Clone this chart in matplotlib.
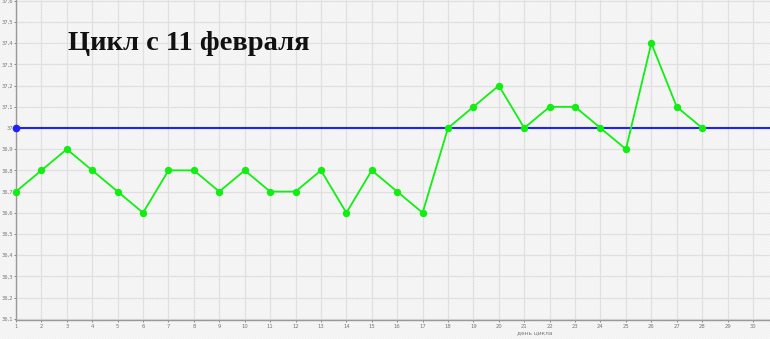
import matplotlib
matplotlib.use("Agg")
import matplotlib.pyplot as plt
from matplotlib.patches import Rectangle

days = list(range(1, 29))
temps = [36.7, 36.8, 36.9, 36.8, 36.7, 36.6, 36.8, 36.8, 36.7, 36.8,
         36.7, 36.7, 36.8, 36.6, 36.8, 36.7, 36.6, 37.0, 37.1, 37.2,
         37.0, 37.1, 37.1, 37.0, 36.9, 37.4, 37.1, 37.0]
coverline = 37.0
x_ticks = list(range(1, 31))
y_ticks = [round(36.1 + 0.1 * i, 1) for i in range(16)]
title = "Цикл с 11 февраля"
xlabel = "день цикла"

plt.rcParams["hatch.linewidth"] = 0.4

fig = plt.figure(figsize=(7.7, 3.39), dpi=100)
fig.patch.set_facecolor("#f9f9f9")
bg = Rectangle((0, 0), 1, 1, transform=fig.transFigure, facecolor="#f9f9f9",
               edgecolor="#f1f1f1", hatch="xxxxxxxxxxxx", linewidth=0, zorder=-10)
fig.patches.append(bg)

ax = fig.add_axes([16 / 770, 19 / 339, 754 / 770, 320 / 339])
ax.patch.set_alpha(0)
ax.set_xlim(1, 30.67)
ax.set_ylim(36.094, 37.604)


def fmt(t):
    s = f"{t:.1f}".replace(".", ",")
    return s[:-2] if s.endswith(",0") else s


ax.set_xticks(x_ticks)
ax.set_xticklabels([str(t) for t in x_ticks])
ax.set_yticks(y_ticks)
ax.set_yticklabels([fmt(t) for t in y_ticks])
ax.tick_params(axis="y", labelsize=3.8, colors="#777777", length=1.5, width=0.6, pad=0.8)
ax.tick_params(axis="x", labelsize=3.8, colors="#777777", length=1.5, width=0.6, pad=1.5)
ax.grid(True, color="#e0e0e0", linewidth=0.9)
for s in ["top", "right"]:
    ax.spines[s].set_visible(False)
for s in ["left", "bottom"]:
    ax.spines[s].set_color("#999999")
    ax.spines[s].set_linewidth(1.0)

ax.axhline(coverline, color="#2020ff", linewidth=1.5, zorder=3)
ax.plot([days[0]], [coverline], "o", color="#2020ff", markersize=4.5, zorder=4, clip_on=False)
ax.plot(days, temps, "-o", color="#11ee11", linewidth=1.3, markersize=4.3, zorder=5, clip_on=False)

fig.text(68 / 770, 1 - 50 / 339, title, fontsize=20.5, fontweight="bold",
         family="Liberation Serif", color="#111111", va="baseline", ha="left")
fig.text(535 / 770, 1 - 333 / 339, xlabel, fontsize=4.2, color="#777777", ha="center", va="center")

fig.savefig("out.png", dpi=100)
